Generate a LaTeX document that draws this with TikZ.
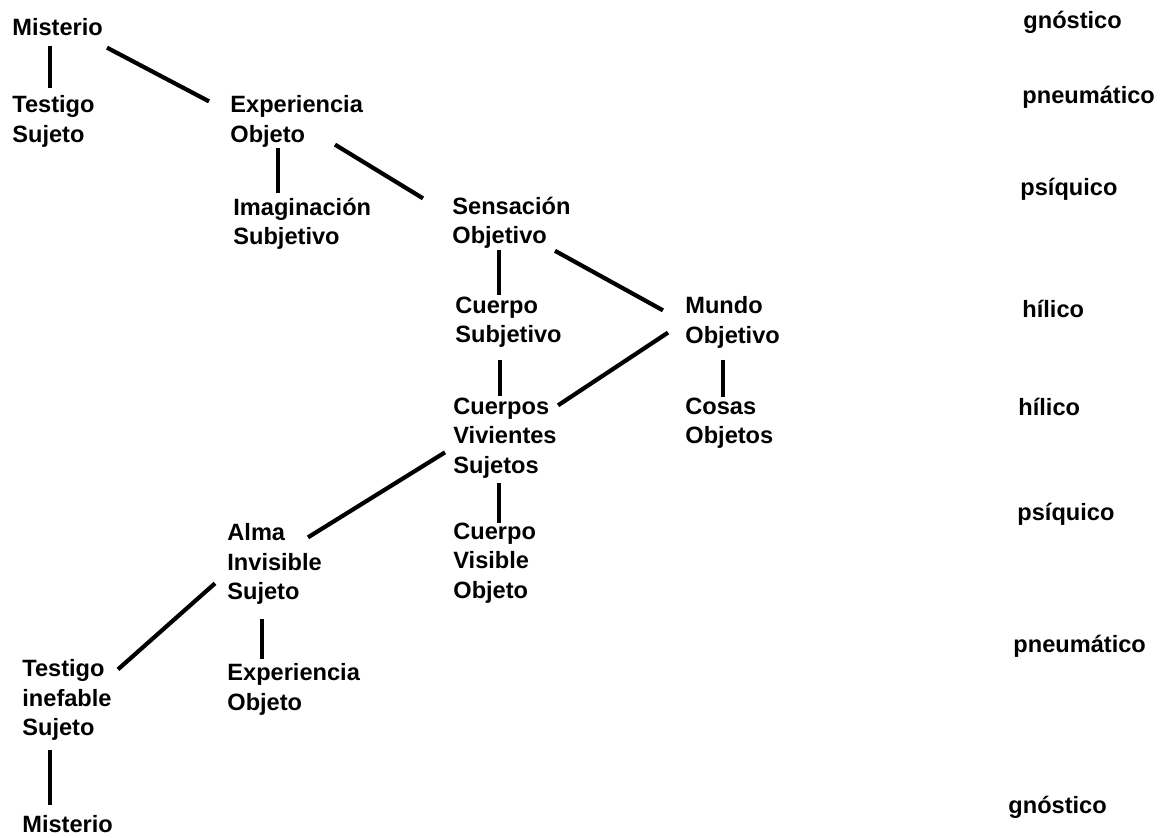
\documentclass[tikz,border=0pt]{standalone}
\usepackage{fontspec}
\setmainfont{Liberation Sans}
\tikzset{
  term/.style={anchor=north west, inner sep=0pt, align=left,
    font=\fontsize{11.8}{14.75}\selectfont\bfseries,
    execute at begin node=\strut, execute at end node=\strut},
  level/.style={anchor=base west, inner sep=0pt,
    font=\fontsize{11.8}{14.75}\selectfont\bfseries},
  link/.style={black, line width=2.1pt}
}
\begin{document}
\begin{tikzpicture}[x=0.5pt, y=-0.5pt]
	  \useasboundingbox (0,0) rectangle (1166,837);
	  % tree
	  \node[term] (mis1) at (12,14.35) {Misterio};
	  \node[term] (tes1) at (12,95.35) {Testigo\\Sujeto};
	  \node[term] (exp1) at (230,95.35) {Experiencia\\Objeto};
	  \node[term] (ima) at (233,197.35) {Imaginación\\Subjetivo};
	  \node[term] (sen) at (452,196.35) {Sensación\\Objetivo};
	  \node[term] (cue) at (455,296.35) {Cuerpo\\Subjetivo};
	  \node[term] (mun) at (685,296.35) {Mundo\\Objetivo};
	  \node[term] (cvi) at (453,397.35) {Cuerpos\\Vivientes\\Sujetos};
	  \node[term] (cos) at (685,397.35) {Cosas\\Objetos};
	  \node[term] (alm) at (227,523.35) {Alma\\Invisible\\Sujeto};
	  \node[term] (cvo) at (453,522.35) {Cuerpo\\Visible\\Objeto};
	  \node[term] (tes2) at (22,659.35) {Testigo\\inefable\\Sujeto};
	  \node[term] (exp2) at (227,663.35) {Experiencia\\Objeto};
	  \node[term] (mis2) at (22,811.35) {Misterio};
	  % levels
	  \node[level] (lv1) at (1023,28) {gnóstico};
	  \node[level] (lv2) at (1022,103) {pneumático};
	  \node[level] (lv3) at (1020,195) {psíquico};
	  \node[level] (lv4) at (1022,317) {hílico};
	  \node[level] (lv5) at (1018,415) {hílico};
	  \node[level] (lv6) at (1017,520) {psíquico};
	  \node[level] (lv7) at (1013,652) {pneumático};
	  \node[level] (lv8) at (1008,813) {gnóstico};
	  % links
	  \draw[link] ([shift={(38,1)}]mis1.south west) -- ([shift={(38,-7)}]tes1.north west);
	  \draw[link] ([shift={(95,3)}]mis1.south west) -- ([shift={(-21,6)}]exp1.north west);
	  \draw[link] ([shift={(48,-4)}]exp1.south west) -- ([shift={(45,-4)}]ima.north west);
	  \draw[link] ([shift={(105,-7)}]exp1.south west) -- ([shift={(-29,2)}]sen.north west);
	  \draw[link] ([shift={(47,-3)}]sen.south west) -- ([shift={(44,-1)}]cue.north west);
	  \draw[link] ([shift={(103,-2)}]sen.south west) -- ([shift={(-22,14)}]mun.north west);
	  \draw[link] ([shift={(45,8)}]cue.south west) -- ([shift={(47,-1)}]cvi.north west);
	  \draw[link] ([shift={(-17,-20)}]mun.south west) -- ([shift={(105,8)}]cvi.north west);
	  \draw[link] ([shift={(38,7)}]mun.south west) -- ([shift={(38,0)}]cos.north west);
	  \draw[link] ([shift={(-8,55)}]cvi.north west) -- ([shift={(81,14)}]alm.north west);
	  \draw[link] ([shift={(46,1)}]cvi.south west) -- ([shift={(46,1)}]cvo.north west);
	  \draw[link] ([shift={(-12,60)}]alm.north west) -- ([shift={(96,10)}]tes2.north west);
	  \draw[link] ([shift={(35,10)}]alm.south west) -- ([shift={(35,-4)}]exp2.north west);
	  \draw[link] ([shift={(28,5)}]tes2.south west) -- ([shift={(28,-6)}]mis2.north west);
	\end{tikzpicture}
\end{document}
